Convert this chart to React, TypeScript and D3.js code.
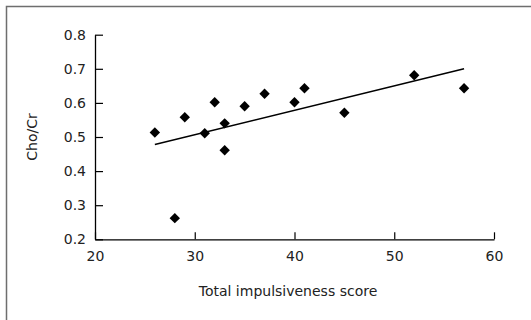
import React, { useEffect, useRef } from 'react';
import * as d3 from 'd3';

// Cho/Cr vs total impulsiveness score
const scores = [26, 28, 29, 31, 32, 33, 33, 35, 37, 40, 41, 45, 52, 57];
const choCr = [0.513, 0.262, 0.558, 0.511, 0.602, 0.540, 0.461, 0.590, 0.627, 0.602, 0.643, 0.571, 0.681, 0.643];

// fitted line endpoints
const trendX = [26, 57];
const trendY = [0.478, 0.700];

const xTicks = [20, 30, 40, 50, 60];
const yTicks = [0.2, 0.3, 0.4, 0.5, 0.6, 0.7, 0.8];

const FONT = '"DejaVu Sans", sans-serif';

export default function App() {
  const svgRef = useRef<SVGSVGElement>(null);
  const width = 531;
  const height = 320;

  useEffect(() => {
    const svg = d3.select(svgRef.current);
    svg.selectAll('*').remove();

    const margin = { top: 34.7, right: 37, bottom: 80.7, left: 95 };
    const innerWidth = width - margin.left - margin.right;
    const innerHeight = height - margin.top - margin.bottom;

    // outer frame (right/bottom edges fall outside the picture)
    svg.append('rect')
      .attr('x', 6.5)
      .attr('y', 6.5)
      .attr('width', width)
      .attr('height', height)
      .style('fill', 'none')
      .style('stroke', '#6e6e6e')
      .style('stroke-width', 1.5);

    const xScale = d3.scaleLinear().domain([20, 60]).range([0, innerWidth]);
    const yScale = d3.scaleLinear().domain([0.2, 0.8]).range([innerHeight, 0]);

    const g = svg.append('g')
      .attr('transform', `translate(${margin.left},${margin.top})`);

    // axes, ticks pointing inwards
    const xAxis = g.append('g')
      .attr('transform', `translate(0,${innerHeight})`)
      .call(d3.axisBottom(xScale).tickValues(xTicks).tickSizeInner(-7).tickSizeOuter(0).tickPadding(12).tickFormat(d3.format('d')));

    const yAxis = g.append('g')
      .call(d3.axisLeft(yScale).tickValues(yTicks).tickSizeInner(-8).tickSizeOuter(0).tickPadding(9).tickFormat(d3.format('.1f')));

    [xAxis, yAxis].forEach(ax => {
      ax.select('.domain').style('stroke', '#000').style('stroke-width', 1.3);
      ax.selectAll('line').style('stroke', '#000').style('stroke-width', 1.2);
      ax.selectAll('text')
        .style('fill', '#222')
        .style('font-family', FONT)
        .style('font-size', '14px');
    });

    // trend line
    const line = d3.line<number>()
      .x((d, i) => xScale(trendX[i]))
      .y(d => yScale(d));

    g.append('path')
      .datum(trendY)
      .attr('fill', 'none')
      .attr('stroke', '#000')
      .attr('stroke-width', 1.5)
      .attr('d', line);

    // diamond markers
    const diamond = d3.symbol().type(d3.symbolSquare).size(54);
    g.selectAll('.pt')
      .data(scores)
      .enter()
      .append('path')
      .attr('class', 'pt')
      .attr('d', diamond)
      .attr('transform', (d, i) => `translate(${xScale(d)},${yScale(choCr[i])}) rotate(45)`)
      .style('fill', '#000');

    // axis titles
    svg.append('text')
      .attr('x', 288)
      .attr('y', 296)
      .attr('text-anchor', 'middle')
      .style('fill', '#222')
      .style('font-family', FONT)
      .style('font-size', '14px')
      .text('Total impulsiveness score');

    svg.append('text')
      .attr('transform', 'translate(37,137) rotate(-90)')
      .attr('text-anchor', 'middle')
      .style('fill', '#222')
      .style('font-family', FONT)
      .style('font-size', '14px')
      .text('Cho/Cr');
  }, []);

  return (
    <div style={{ position: 'absolute', left: 0, top: 0 }}>
      <svg ref={svgRef} width={width} height={height} style={{ display: 'block', background: '#fff' }} />
    </div>
  );
}
